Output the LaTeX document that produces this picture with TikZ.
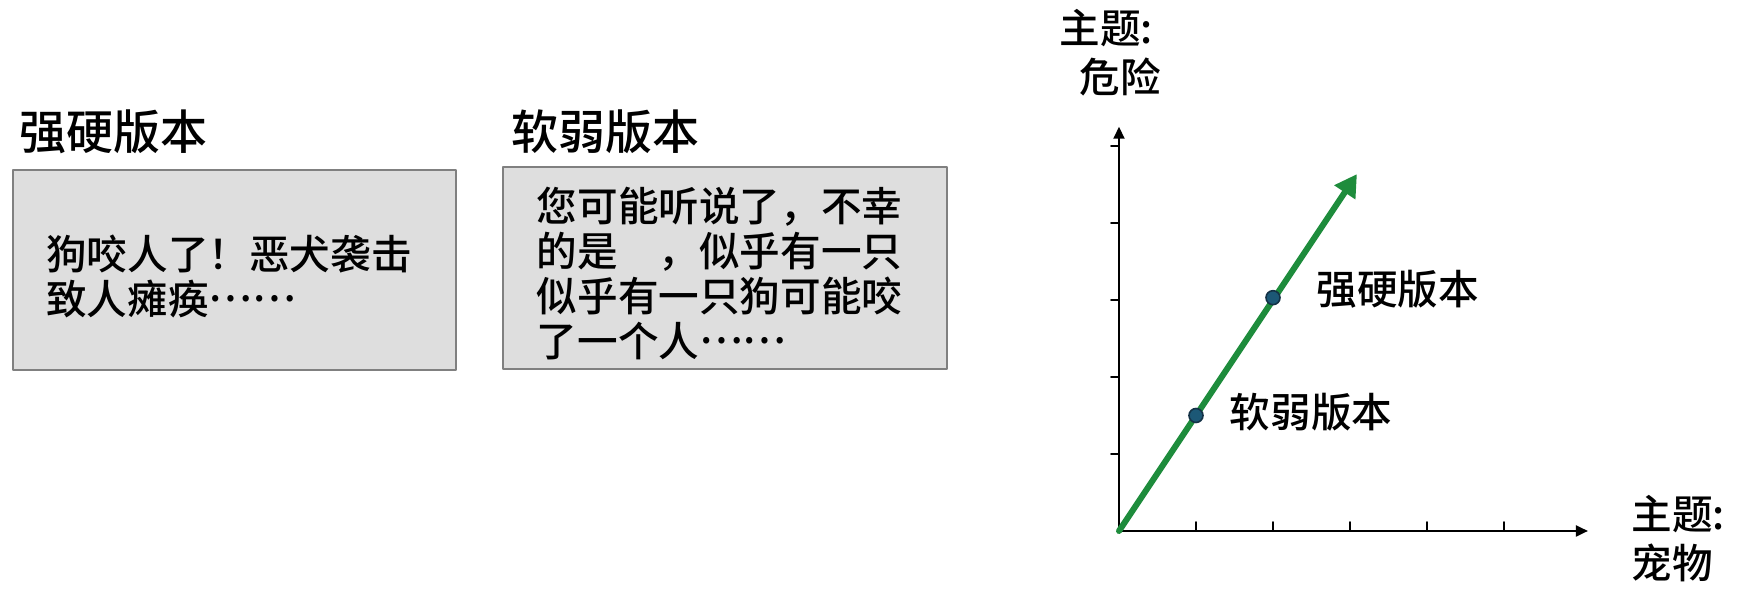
\documentclass[tikz,border=0pt]{standalone}
\usepackage{fontspec}
\setmainfont{Noto Sans CJK SC}[UprightFont={* Medium}]
\usetikzlibrary{arrows.meta,positioning}
\definecolor{boxgray}{RGB}{222,222,222}
\definecolor{boxline}{RGB}{128,128,128}
\definecolor{vecgreen}{RGB}{30,140,60}
\definecolor{dotblue}{RGB}{28,88,118}
\definecolor{dotline}{RGB}{20,50,70}
\newcommand{\zhdots}{\raisebox{0.32em}{……}}
\tikzset{
  panel/.style={draw=boxline, fill=boxgray, line width=0.6pt, inner sep=0pt},
  paneltext/.style={inner sep=0pt, align=left,
    font=\fontsize{20.3pt}{22.5pt}\selectfont},
  heading/.style={inner sep=0pt, font=\fontsize{23.5pt}{26pt}\selectfont},
  axislabel/.style={inner sep=0pt, align=left,
    font=\fontsize{20.3pt}{24.5pt}\selectfont}
}

\begin{document}
\begin{tikzpicture}[line cap=round, line join=round,
                            x=0.5pt, y=0.5pt, scale=1]
\useasboundingbox (0,0) rectangle (1737,592);
\node (hardbox) [panel, minimum width=221.5pt, minimum height=100pt] at (234.5,322) {};
\node (softbox) [panel, minimum width=222pt, minimum height=101pt] at (725,324) {};
\node (hardtitle) [heading, anchor=west] at (19,460) {强硬版本};
\node (softtitle) [heading, anchor=west] at (511,460) {软弱版本};
\node (hardtext) [paneltext, right=16.75pt of hardbox.west, yshift=-3.25pt]
{狗咬人了！恶犬袭击\\致人瘫痪\zhdots};
\node (softtext) [paneltext, right=17pt of softbox.west, yshift=-3pt]
{您可能听说了，不幸\\的是　，似乎有一只\\似乎有一只狗可能咬\\了一个人\zhdots};
\node (ylabel) [axislabel, anchor=west] at (1059,539) {主题:\\\hspace*{10pt}危险};
\node (xlabel) [axislabel, anchor=west] at (1631,53) {主题:\\宠物};
\begin{scope}[shift={(559.5pt,30.5pt)}, x=38.5pt, y=38.5pt]
\coordinate (origin) at (0,0);
\coordinate (xend) at (6.09,0);
\coordinate (yend) at (0,5.25);
\coordinate (vectip) at (3.09,4.635);
\coordinate (softpt) at (1,1.5);
\coordinate (hardpt) at (2,3.03);
\draw [-{Triangle[length=6pt,width=5.5pt]}, color=black, line width=1.0pt] (origin) -- (xend);
\draw [-{Triangle[length=6pt,width=5.5pt]}, color=black, line width=1.0pt] (origin) -- (yend);
\foreach \x in {1,...,5}
\draw [shift={(\x,0)}, color=black, line width=0.8pt] (0pt,0pt)
-- (0pt,4.5pt);
\foreach \y in {1,...,5}
\draw [shift={(0,\y)}, color=black, line width=0.8pt] (0pt,0pt)
-- (-4pt,0pt);
\draw [-{Triangle[length=11pt,width=12pt]}, color=vecgreen, line width=3pt] (origin) -- (vectip);
\filldraw[fill=dotblue, draw=dotline, line width=0.8pt] (softpt) circle (3.5pt);
\filldraw[fill=dotblue, draw=dotline, line width=0.8pt] (hardpt) circle (3.5pt);
\node (softlabel) [axislabel, right=16.7pt of softpt, yshift=1.5pt] {软弱版本};
\node (hardlabel) [axislabel, right=21.5pt of hardpt, yshift=4pt] {强硬版本};
\end{scope}
\end{tikzpicture}
\end{document}
